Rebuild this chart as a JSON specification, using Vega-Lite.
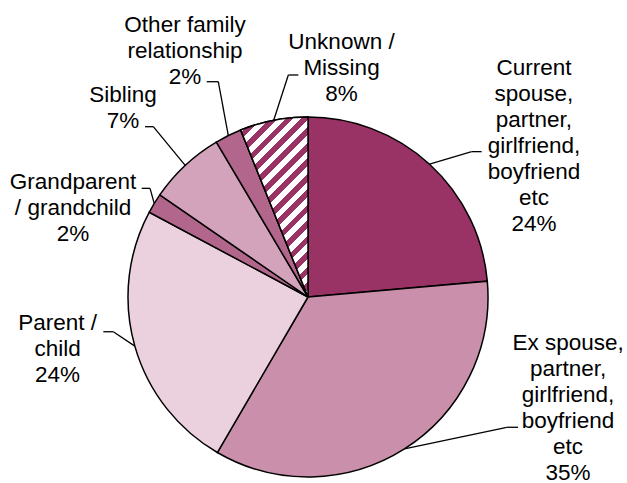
{
  "$schema": "https://vega.github.io/schema/vega-lite/v6.json",
  "width": 616,
  "height": 372,
  "autosize": "none",
  "padding": {"left": 0, "top": 111, "right": 11, "bottom": 0},
  "background": "white",
  "config": {"view": {"stroke": null}},
  "data": {
    "values": [
      {"category": "Current\nspouse,\npartner,\ngirlfriend,\nboyfriend\netc", "share": 23.6, "pct": "24%"},
      {"category": "Ex spouse,\npartner,\ngirlfriend,\nboyfriend\netc", "share": 34.8, "pct": "35%"},
      {"category": "Parent /\nchild", "share": 24.4, "pct": "24%"},
      {"category": "Grandparent\n/ grandchild", "share": 1.8, "pct": "2%"},
      {"category": "Sibling", "share": 6.9, "pct": "7%"},
      {"category": "Other family\nrelationship", "share": 2.4, "pct": "2%"},
      {"category": "Unknown /\nMissing", "share": 6.1, "pct": "8%"}
    ]
  },
  "transform": [
    {"joinaggregate": [{"op": "sum", "field": "share", "as": "total"}]},
    {"stack": "share", "groupby": [], "as": ["s0", "s1"]},
    {"calculate": "datum.s0 / datum.total", "as": "t0"},
    {"calculate": "datum.s1 / datum.total", "as": "t1"},
    {"calculate": "(datum.t0 + datum.t1) * PI", "as": "ang"},
    {"calculate": "sin(datum.ang)", "as": "ax"},
    {"calculate": "cos(datum.ang)", "as": "ay"},
    {"calculate": "substring(datum.category, 0, 4)", "as": "key"},
    {"calculate": "datum.category + '\\n' + datum.pct", "as": "txt"}
  ],
  "layer": [
    {
      "mark": {"type": "arc", "outerRadius": 180, "stroke": "black", "strokeWidth": 1.5},
      "encoding": {
        "theta": {"field": "t0", "type": "quantitative", "scale": {"domain": [0, 1]}},
        "theta2": {"field": "t1"},
        "fill": {
          "field": "key", "type": "nominal", "legend": null, "sort": null,
          "scale": {
            "domain": ["Curr", "Ex s", "Pare", "Gran", "Sibl", "Othe", "Unkn"],
            "range": ["#993366", "#c98fab", "#ebd1de", "#b2668c", "#d3a3bb", "#b2668c", "#cc99b3"]
          }
        }
      }
    },
    {
      "transform": [{"filter": "datum.key == 'Unkn'"}],
      "mark": {
        "type": "arc", "outerRadius": 180, "stroke": "black", "strokeWidth": 1.5,
        "fill": {
          "gradient": "linear", "x1": 0, "y1": 0, "x2": 0.451, "y2": 1.205,
          "stops": [
            {"offset": 0, "color": "#993366"}, {"offset": 0.03125, "color": "#993366"},
            {"offset": 0.03125, "color": "#ffffff"}, {"offset": 0.0625, "color": "#ffffff"},
            {"offset": 0.0625, "color": "#993366"}, {"offset": 0.09375, "color": "#993366"},
            {"offset": 0.09375, "color": "#ffffff"}, {"offset": 0.125, "color": "#ffffff"},
            {"offset": 0.125, "color": "#993366"}, {"offset": 0.15625, "color": "#993366"},
            {"offset": 0.15625, "color": "#ffffff"}, {"offset": 0.1875, "color": "#ffffff"},
            {"offset": 0.1875, "color": "#993366"}, {"offset": 0.21875, "color": "#993366"},
            {"offset": 0.21875, "color": "#ffffff"}, {"offset": 0.25, "color": "#ffffff"},
            {"offset": 0.25, "color": "#993366"}, {"offset": 0.28125, "color": "#993366"},
            {"offset": 0.28125, "color": "#ffffff"}, {"offset": 0.3125, "color": "#ffffff"},
            {"offset": 0.3125, "color": "#993366"}, {"offset": 0.34375, "color": "#993366"},
            {"offset": 0.34375, "color": "#ffffff"}, {"offset": 0.375, "color": "#ffffff"},
            {"offset": 0.375, "color": "#993366"}, {"offset": 0.40625, "color": "#993366"},
            {"offset": 0.40625, "color": "#ffffff"}, {"offset": 0.4375, "color": "#ffffff"},
            {"offset": 0.4375, "color": "#993366"}, {"offset": 0.46875, "color": "#993366"},
            {"offset": 0.46875, "color": "#ffffff"}, {"offset": 0.5, "color": "#ffffff"},
            {"offset": 0.5, "color": "#993366"}, {"offset": 0.53125, "color": "#993366"},
            {"offset": 0.53125, "color": "#ffffff"}, {"offset": 0.5625, "color": "#ffffff"},
            {"offset": 0.5625, "color": "#993366"}, {"offset": 0.59375, "color": "#993366"},
            {"offset": 0.59375, "color": "#ffffff"}, {"offset": 0.625, "color": "#ffffff"},
            {"offset": 0.625, "color": "#993366"}, {"offset": 0.65625, "color": "#993366"},
            {"offset": 0.65625, "color": "#ffffff"}, {"offset": 0.6875, "color": "#ffffff"},
            {"offset": 0.6875, "color": "#993366"}, {"offset": 0.71875, "color": "#993366"},
            {"offset": 0.71875, "color": "#ffffff"}, {"offset": 0.75, "color": "#ffffff"},
            {"offset": 0.75, "color": "#993366"}, {"offset": 0.78125, "color": "#993366"},
            {"offset": 0.78125, "color": "#ffffff"}, {"offset": 0.8125, "color": "#ffffff"},
            {"offset": 0.8125, "color": "#993366"}, {"offset": 0.84375, "color": "#993366"},
            {"offset": 0.84375, "color": "#ffffff"}, {"offset": 0.875, "color": "#ffffff"},
            {"offset": 0.875, "color": "#993366"}, {"offset": 0.90625, "color": "#993366"},
            {"offset": 0.90625, "color": "#ffffff"}, {"offset": 0.9375, "color": "#ffffff"},
            {"offset": 0.9375, "color": "#993366"}, {"offset": 0.96875, "color": "#993366"},
            {"offset": 0.96875, "color": "#ffffff"}, {"offset": 1, "color": "#ffffff"}
          ]
        }
      },
      "encoding": {
        "theta": {"field": "t0", "type": "quantitative", "scale": {"domain": [0, 1]}},
        "theta2": {"field": "t1"}
      }
    },
    {
      "encoding": {
        "x": {"field": "ax", "type": "quantitative", "axis": null, "scale": {"domain": [-1.711111, 1.711111], "nice": false, "zero": false}},
        "y": {"field": "ay", "type": "quantitative", "axis": null, "scale": {"domain": [-1.033333, 1.033333], "nice": false, "zero": false}}
      },
      "layer": [
        {
          "transform": [{"filter": "datum.key == 'Curr'"}],
          "layer": [
            {"mark": {"type": "rule", "color": "black", "strokeWidth": 1.3, "x2Offset": 42.1, "y2Offset": -12.6}, "encoding": {"x2": {"field": "ax"}, "y2": {"field": "ay"}}},
            {"mark": {"type": "rule", "color": "black", "strokeWidth": 1.3, "xOffset": 42.1, "yOffset": -12.6, "x2Offset": 52.1, "y2Offset": -12.6}, "encoding": {"x2": {"field": "ax"}, "y2": {"field": "ay"}}},
            {"mark": {"type": "text", "font": "Liberation Sans", "fontSize": 22.5, "lineHeight": 26, "lineBreak": "\n", "align": "center", "baseline": "middle", "color": "black", "dx": 104.4, "dy": -96}, "encoding": {"text": {"field": "txt"}}}
          ]
        },
        {
          "transform": [{"filter": "datum.key == 'Ex s'"}],
          "layer": [
            {"mark": {"type": "rule", "color": "black", "strokeWidth": 1.3, "x2Offset": 102.3, "y2Offset": -21.7}, "encoding": {"x2": {"field": "ax"}, "y2": {"field": "ay"}}},
            {"mark": {"type": "rule", "color": "black", "strokeWidth": 1.3, "xOffset": 102.3, "yOffset": -21.7, "x2Offset": 113.6, "y2Offset": -21.7}, "encoding": {"x2": {"field": "ax"}, "y2": {"field": "ay"}}},
            {"mark": {"type": "text", "font": "Liberation Sans", "fontSize": 22.5, "lineHeight": 26, "lineBreak": "\n", "align": "center", "baseline": "middle", "color": "black", "dx": 163.6, "dy": -105.7}, "encoding": {"text": {"field": "txt"}}}
          ]
        },
        {
          "transform": [{"filter": "datum.key == 'Pare'"}],
          "layer": [
            {"mark": {"type": "rule", "color": "black", "strokeWidth": 1.3, "x2Offset": -21.5, "y2Offset": -14.4}, "encoding": {"x2": {"field": "ax"}, "y2": {"field": "ay"}}},
            {"mark": {"type": "rule", "color": "black", "strokeWidth": 1.3, "xOffset": -21.5, "yOffset": -14.4, "x2Offset": -31.5, "y2Offset": -14.4}, "encoding": {"x2": {"field": "ax"}, "y2": {"field": "ay"}}},
            {"mark": {"type": "text", "font": "Liberation Sans", "fontSize": 22.5, "lineHeight": 26, "lineBreak": "\n", "align": "center", "baseline": "middle", "color": "black", "dx": -77.3, "dy": -22.8}, "encoding": {"text": {"field": "txt"}}}
          ]
        },
        {
          "transform": [{"filter": "datum.key == 'Gran'"}],
          "layer": [
            {"mark": {"type": "rule", "color": "black", "strokeWidth": 1.3, "x2Offset": -4.2, "y2Offset": -15.1}, "encoding": {"x2": {"field": "ax"}, "y2": {"field": "ay"}}},
            {"mark": {"type": "rule", "color": "black", "strokeWidth": 1.3, "xOffset": -4.2, "yOffset": -15.1, "x2Offset": -12.5, "y2Offset": -15.1}, "encoding": {"x2": {"field": "ax"}, "y2": {"field": "ay"}}},
            {"mark": {"type": "text", "font": "Liberation Sans", "fontSize": 22.5, "lineHeight": 26, "lineBreak": "\n", "align": "center", "baseline": "middle", "color": "black", "dx": -81.2, "dy": -21.7}, "encoding": {"text": {"field": "txt"}}}
          ]
        },
        {
          "transform": [{"filter": "datum.key == 'Sibl'"}],
          "layer": [
            {"mark": {"type": "rule", "color": "black", "strokeWidth": 1.3, "x2Offset": -31.9, "y2Offset": -38.7}, "encoding": {"x2": {"field": "ax"}, "y2": {"field": "ay"}}},
            {"mark": {"type": "rule", "color": "black", "strokeWidth": 1.3, "xOffset": -31.9, "yOffset": -38.7, "x2Offset": -40.2, "y2Offset": -38.7}, "encoding": {"x2": {"field": "ax"}, "y2": {"field": "ay"}}},
            {"mark": {"type": "text", "font": "Liberation Sans", "fontSize": 22.5, "lineHeight": 26, "lineBreak": "\n", "align": "center", "baseline": "middle", "color": "black", "dx": -62.2, "dy": -70.4}, "encoding": {"text": {"field": "txt"}}}
          ]
        },
        {
          "transform": [{"filter": "datum.key == 'Othe'"}],
          "layer": [
            {"mark": {"type": "rule", "color": "black", "strokeWidth": 1.3, "x2Offset": -10, "y2Offset": -53.9}, "encoding": {"x2": {"field": "ax"}, "y2": {"field": "ay"}}},
            {"mark": {"type": "rule", "color": "black", "strokeWidth": 1.3, "xOffset": -10, "yOffset": -53.9, "x2Offset": -21.6, "y2Offset": -53.9}, "encoding": {"x2": {"field": "ax"}, "y2": {"field": "ay"}}},
            {"mark": {"type": "text", "font": "Liberation Sans", "fontSize": 22.5, "lineHeight": 26, "lineBreak": "\n", "align": "center", "baseline": "middle", "color": "black", "dx": -43.3, "dy": -110.6}, "encoding": {"text": {"field": "txt"}}}
          ]
        },
        {
          "transform": [{"filter": "datum.key == 'Unkn'"}],
          "layer": [
            {"mark": {"type": "rule", "color": "black", "strokeWidth": 1.3, "x2Offset": 14.6, "y2Offset": -45.3}, "encoding": {"x2": {"field": "ax"}, "y2": {"field": "ay"}}},
            {"mark": {"type": "rule", "color": "black", "strokeWidth": 1.3, "xOffset": 14.6, "yOffset": -45.3, "x2Offset": 24.6, "y2Offset": -45.3}, "encoding": {"x2": {"field": "ax"}, "y2": {"field": "ay"}}},
            {"mark": {"type": "text", "font": "Liberation Sans", "fontSize": 22.5, "lineHeight": 26, "lineBreak": "\n", "align": "center", "baseline": "middle", "color": "black", "dx": 67.8, "dy": -78.6}, "encoding": {"text": {"field": "txt"}}}
          ]
        }
      ]
    }
  ]
}
